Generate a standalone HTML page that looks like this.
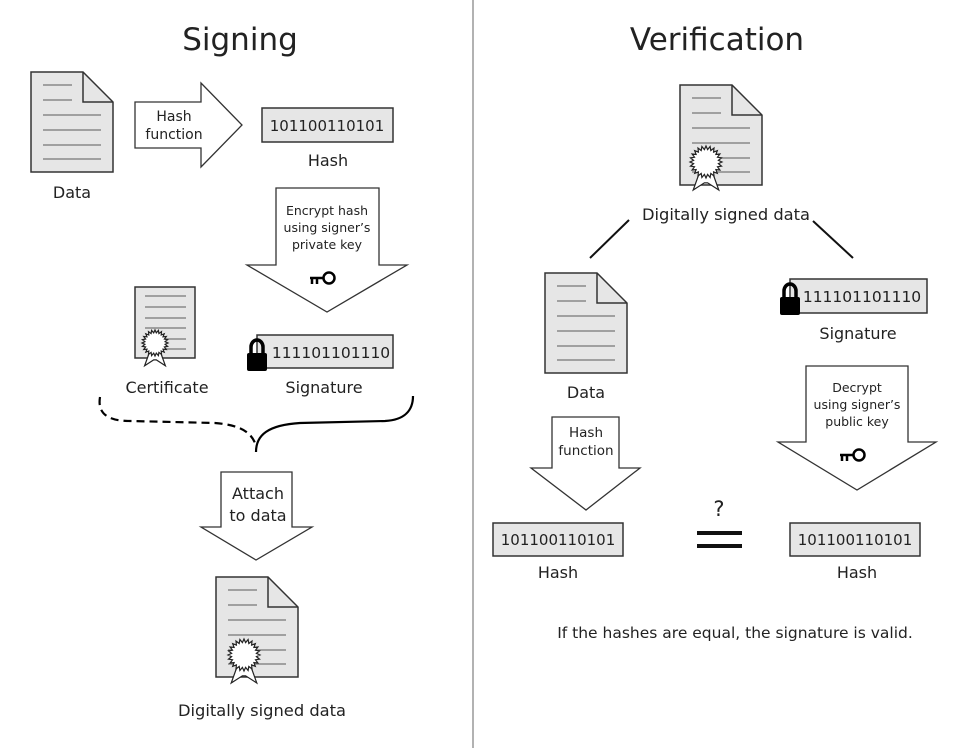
<!DOCTYPE html>
<html><head><meta charset="utf-8"><style>
html,body{margin:0;padding:0;background:#fff;}
svg{display:block;}
text{font-family:"DejaVu Sans","Liberation Sans",sans-serif;fill:#222;}
</style></head><body>
<svg id="s" width="970" height="748" viewBox="0 0 970 748" xmlns="http://www.w3.org/2000/svg">
<defs>
<g id="doc">
<path d="M0,0 H52 L82,30 V100 H0 Z" fill="#e6e6e6" stroke="#333" stroke-width="1.5"/>
<path d="M52,0 V30 H82" fill="none" stroke="#333" stroke-width="1.5"/>
<g stroke="#777" stroke-width="1.3"><line x1="12" y1="13" x2="41" y2="13"/><line x1="12" y1="28" x2="41" y2="28"/><line x1="12" y1="43" x2="70" y2="43"/><line x1="12" y1="58" x2="70" y2="58"/><line x1="12" y1="73" x2="70" y2="73"/><line x1="12" y1="87" x2="70" y2="87"/></g>
</g>
<g id="key"><circle cx="6" cy="0" r="5.5" fill="none" stroke="#000" stroke-width="2.5"/><path d="M0.5,0 H-13 M-11,0 V6 M-6,0 V6" stroke="#000" stroke-width="2.5" fill="none"/></g>
<g id="lock"><path d="M-6,2 V-6 A6,7 0 0 1 6,-6 V2" fill="none" stroke="#000" stroke-width="3.5"/><rect x="-10" y="0" width="20" height="18" rx="2" fill="#000"/></g>
</defs>
<line x1="473" y1="0" x2="473" y2="748" stroke="#999" stroke-width="1.5"/>
<text x="240" y="50" font-size="31" text-anchor="middle">Signing</text>
<text x="717" y="50" font-size="31" text-anchor="middle">Verification</text>

<!-- left -->
<use href="#doc" x="31" y="72"/>
<text x="72" y="198" font-size="16" text-anchor="middle">Data</text>
<path d="M135,102 H201 V83 L242,125 L201,167 V148 H135 Z" fill="#fff" stroke="#333" stroke-width="1.3"/>
<text x="174" y="121" font-size="14" text-anchor="middle">Hash</text>
<text x="174" y="139" font-size="14" text-anchor="middle">function</text>
<rect x="262" y="108" width="131" height="34" fill="#e6e6e6" stroke="#333" stroke-width="1.5"/>
<text x="327" y="131" font-size="15" text-anchor="middle">101100110101</text>
<text x="328" y="166" font-size="16" text-anchor="middle">Hash</text>
<path d="M276,188 H379 V265 H407 L327,312 L247,265 H276 Z" fill="#fff" stroke="#333" stroke-width="1.3"/>
<text x="327" y="215" font-size="12.5" text-anchor="middle">Encrypt hash</text>
<text x="327" y="232" font-size="12.5" text-anchor="middle">using signer’s</text>
<text x="327" y="249" font-size="12.5" text-anchor="middle">private key</text>
<use href="#key" x="323" y="278"/>
<g>
<rect x="135" y="287" width="60" height="71" fill="#e6e6e6" stroke="#333" stroke-width="1.5"/>
<g stroke="#777" stroke-width="1.2"><line x1="145" y1="296" x2="186" y2="296"/><line x1="145" y1="307" x2="186" y2="307"/><line x1="145" y1="318" x2="186" y2="318"/><line x1="145" y1="328" x2="186" y2="328"/><line x1="145" y1="339" x2="186" y2="339"/><line x1="145" y1="349" x2="186" y2="349"/></g>
<g class="seal" data-x="155" data-y="343" data-r="13"></g>
</g>
<text x="167" y="393" font-size="16" text-anchor="middle">Certificate</text>
<rect x="257" y="335" width="136" height="33" fill="#e6e6e6" stroke="#333" stroke-width="1.5"/>
<use href="#lock" x="257" y="353"/>
<text x="331" y="358" font-size="15.5" text-anchor="middle">111101101110</text>
<text x="324" y="393" font-size="16" text-anchor="middle">Signature</text>
<path d="M100,397 C97,415 110,421 130,421 L215,423 C240,425 252,432 256,446" fill="none" stroke="#000" stroke-width="2.2" stroke-dasharray="8,5"/>
<path d="M256,452 C256,435 268,425 300,423 L385,421 C405,420 413,410 413,396" fill="none" stroke="#000" stroke-width="2.2"/>
<path d="M221,472 H292 V527 H312 L256,560 L201,527 H221 Z" fill="#fff" stroke="#333" stroke-width="1.3"/>
<text x="258" y="499" font-size="16" text-anchor="middle">Attach</text>
<text x="258" y="521" font-size="16" text-anchor="middle">to data</text>
<use href="#doc" x="216" y="577"/>
<g class="seal" data-x="244" data-y="655" data-r="16"></g>
<text x="262" y="716" font-size="16.3" text-anchor="middle">Digitally signed data</text>

<!-- right -->
<use href="#doc" x="680" y="85"/>
<g class="seal" data-x="706" data-y="162" data-r="16"></g>
<text x="726" y="220" font-size="16.3" text-anchor="middle">Digitally signed data</text>
<line x1="629" y1="220" x2="590" y2="258" stroke="#111" stroke-width="2"/>
<line x1="813" y1="221" x2="853" y2="258" stroke="#111" stroke-width="2"/>
<use href="#doc" x="545" y="273"/>
<text x="586" y="398" font-size="16" text-anchor="middle">Data</text>
<rect x="790" y="279" width="137" height="34" fill="#e6e6e6" stroke="#333" stroke-width="1.5"/>
<use href="#lock" x="790" y="297"/>
<text x="862" y="302" font-size="15.5" text-anchor="middle">111101101110</text>
<text x="858" y="339" font-size="16" text-anchor="middle">Signature</text>
<path d="M806,366 H908 V442 H936 L857,490 L778,442 H806 Z" fill="#fff" stroke="#333" stroke-width="1.3"/>
<text x="857" y="392" font-size="12.5" text-anchor="middle">Decrypt</text>
<text x="857" y="409" font-size="12.5" text-anchor="middle">using signer’s</text>
<text x="857" y="426" font-size="12.5" text-anchor="middle">public key</text>
<use href="#key" x="853" y="455"/>
<path d="M552,417 H619 V468 H640 L586,510 L531,468 H552 Z" fill="#fff" stroke="#333" stroke-width="1.3"/>
<text x="586" y="437" font-size="13.5" text-anchor="middle">Hash</text>
<text x="586" y="455" font-size="13.5" text-anchor="middle">function</text>
<rect x="493" y="523" width="130" height="33" fill="#e6e6e6" stroke="#333" stroke-width="1.5"/>
<text x="558" y="545" font-size="15" text-anchor="middle">101100110101</text>
<text x="558" y="578" font-size="16" text-anchor="middle">Hash</text>
<rect x="790" y="523" width="130" height="33" fill="#e6e6e6" stroke="#333" stroke-width="1.5"/>
<text x="855" y="545" font-size="15" text-anchor="middle">101100110101</text>
<text x="857" y="578" font-size="16" text-anchor="middle">Hash</text>
<text x="719" y="516" font-size="21" text-anchor="middle">?</text>
<rect x="697" y="531" width="45" height="4" fill="#111"/>
<rect x="697" y="544" width="45" height="4" fill="#111"/>
<text x="735" y="638" font-size="15.5" text-anchor="middle">If the hashes are equal, the signature is valid.</text>
</svg>
<script>
var NS="http://www.w3.org/2000/svg";
document.querySelectorAll('.seal').forEach(function(g){
 var x=+g.getAttribute('data-x'),y=+g.getAttribute('data-y'),r=+g.getAttribute('data-r');
 var rb=document.createElementNS(NS,'path');
 rb.setAttribute('d','M'+(x-r*0.35)+','+(y+r*0.5)+' L'+(x-r*0.8)+','+(y+r*1.75)+' L'+(x-r*0.1)+','+(y+r*1.3)+' L'+(x+r*0.1)+','+(y+r*1.3)+' L'+(x+r*0.8)+','+(y+r*1.75)+' L'+(x+r*0.35)+','+(y+r*0.5)+' Z');
 rb.setAttribute('fill','#fff');rb.setAttribute('stroke','#222');rb.setAttribute('stroke-width','1.2');
 g.appendChild(rb);
 var pts=[],n=24;
 for(var i=0;i<n*2;i++){var a=Math.PI*i/n,rr=i%2?r*0.78:r*1.0;pts.push((x+rr*Math.cos(a)).toFixed(1)+','+(y+rr*Math.sin(a)).toFixed(1));}
 var p=document.createElementNS(NS,'polygon');p.setAttribute('points',pts.join(' '));
 p.setAttribute('fill','#fff');p.setAttribute('stroke','#222');p.setAttribute('stroke-width','1.2');
 g.appendChild(p);
});
</script>
</body></html>
